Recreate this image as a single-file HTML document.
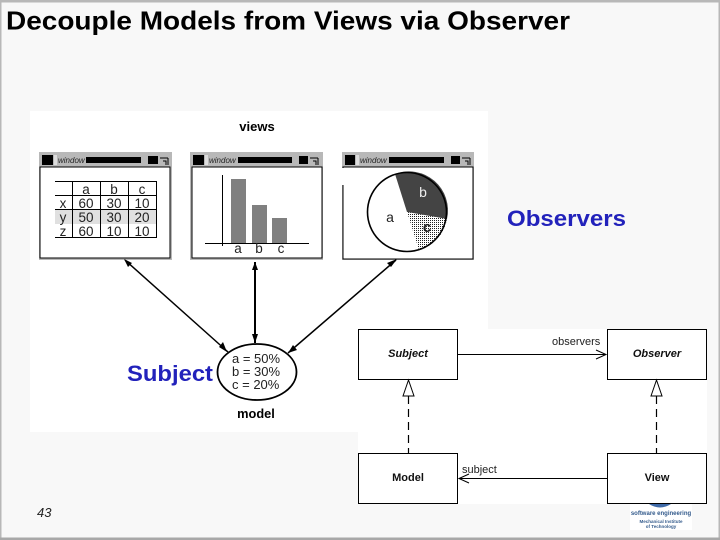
<!DOCTYPE html>
<html><head><meta charset="utf-8"><style>
html,body{margin:0;padding:0;background:#f8f8f8}
svg{display:block;font-family:"Liberation Sans",sans-serif}
.soft{filter:blur(.35px)}
</style></head><body>
<svg width="720" height="540" viewBox="0 0 720 540" xmlns="http://www.w3.org/2000/svg">
<defs><pattern id="d" width="2" height="2" patternUnits="userSpaceOnUse"><rect width="2" height="2" fill="#fff"/><rect width="1" height="1" fill="#222"/></pattern></defs>
<rect width="720" height="540" fill="#f8f8f8"/>
<rect width="720" height="2.500" fill="#b8b8b8"/><rect width="1.500" height="540" fill="#b8b8b8"/>
<rect x="718.500" width="1.500" height="540" fill="#b8b8b8"/><rect y="537.500" width="720" height="2.500" fill="#a8a8a8"/>
<text x="6" y="29.500" font-size="26" font-weight="bold" fill="#000" textLength="564" lengthAdjust="spacingAndGlyphs">Decouple Models from Views via Observer</text>
<rect x="30" y="111" width="458" height="321" fill="#fff"/>
<g class="soft">
<text x="257" y="131" font-size="13" font-weight="bold" text-anchor="middle">views</text>

<!-- window 1 -->
<g>
<rect x="39" y="152" width="133" height="108" fill="#b8b8b8"/>
<rect x="40" y="167" width="130" height="91" fill="#fff" stroke="#000"/>
<rect x="42" y="155" width="11" height="10" fill="#000"/>
<rect x="54" y="155" width="3" height="10" fill="#ddd"/>
<text x="58" y="163" font-size="8" font-style="italic" fill="#222">window</text>
<rect x="86" y="157" width="55" height="6" fill="#000"/>
<rect x="148" y="156" width="10" height="8" fill="#000"/>
<path d="M160 158h8M168 158v7M163 161h3v4" fill="none" stroke="#000"/>
<rect x="55" y="210" width="101" height="14" fill="#e0e0e0"/>
<path d="M55 181.500H156M55 195.500H156M55 209.500H156M55 237.500H156M72.500 181V238M100.500 181V238M128.500 181V238M156.500 181V238" stroke="#000" fill="none"/>
<g font-size="13.500" text-anchor="middle" fill="#222">
<text x="86" y="194">a</text><text x="114" y="194">b</text><text x="142" y="194">c</text>
<text x="63" y="208">x</text><text x="86" y="208">60</text><text x="114" y="208">30</text><text x="142" y="208">10</text>
<text x="63" y="222">y</text><text x="86" y="222">50</text><text x="114" y="222">30</text><text x="142" y="222">20</text>
<text x="63" y="236">z</text><text x="86" y="236">60</text><text x="114" y="236">10</text><text x="142" y="236">10</text>
</g>
</g>

<!-- window 2 -->
<g>
<rect x="190" y="152" width="133" height="108" fill="#b8b8b8"/>
<rect x="192" y="167" width="130" height="91" fill="#fff" stroke="#000"/>
<rect x="193" y="155" width="11" height="10" fill="#000"/>
<rect x="205" y="155" width="3" height="10" fill="#ddd"/>
<text x="209" y="163" font-size="8" font-style="italic" fill="#222">window</text>
<rect x="238" y="157" width="54" height="6" fill="#000"/>
<rect x="299" y="156" width="9" height="8" fill="#000"/>
<path d="M310 158h8M318 158v7M313 161h3v4" fill="none" stroke="#000"/>
<rect x="231" y="179" width="15" height="64" fill="#808080"/>
<rect x="252" y="205" width="15" height="38" fill="#808080"/>
<rect x="272" y="218" width="15" height="25" fill="#808080"/>
<path d="M222.500 175V246M205 243.500H309" stroke="#000" fill="none"/>
<g font-size="13.500" text-anchor="middle" fill="#222"><text x="238" y="253">a</text><text x="259" y="253">b</text><text x="281" y="253">c</text></g>
</g>

<!-- window 3 -->
<g>
<rect x="342" y="152" width="132" height="108" fill="#b8b8b8"/>
<rect x="343" y="167" width="130" height="92" fill="#fff" stroke="#000"/>
<rect x="342" y="168" width="3" height="17" fill="#fff"/>
<rect x="345" y="155" width="10" height="10" fill="#000"/>
<rect x="356" y="155" width="3" height="10" fill="#ddd"/>
<text x="360" y="163" font-size="8" font-style="italic" fill="#222">window</text>
<rect x="389" y="157" width="55" height="6" fill="#000"/>
<rect x="451" y="156" width="9" height="8" fill="#000"/>
<path d="M462 158h8M470 158v7M465 161h3v4" fill="none" stroke="#000"/>
<path d="M407 212L395 174A39 39 0 0 1 447 219Z" fill="#444"/>
<path d="M407 212L447 219A39 39 0 0 1 419 250Z" fill="url(#d)"/>
<circle cx="407" cy="212" r="39.500" fill="none" stroke="#000" stroke-width="1.600"/>
<text x="390" y="222" font-size="14" text-anchor="middle" fill="#222">a</text>
<text x="423" y="197" font-size="14" text-anchor="middle" fill="#eee">b</text>
<text x="427" y="232" font-size="15" font-weight="bold" text-anchor="middle" fill="#222">c</text>
</g>

<!-- arrows -->
<g stroke="#000" fill="none">
<path d="M125 260L228 352" stroke-width="1.500"/>
<path d="M255 262V343" stroke-width="2"/>
<path d="M396 260L288 353" stroke-width="1.500"/>
</g>
<g fill="#000">
<path d="M124 259L132 263L128 267Z"/>
<path d="M227 352L219 347L223 342Z"/>
<path d="M255 262L258 270H252Z"/>
<path d="M255 343L258 334H252Z"/>
<path d="M397 259L391 267L387 263Z"/>
<path d="M288 353L293 345L297 350Z"/>
</g>
<ellipse cx="257" cy="372" rx="39.500" ry="28" fill="#fff" stroke="#000" stroke-width="1.800"/>
<g font-size="13" fill="#222"><text x="232" y="363">a = 50%</text><text x="232" y="376">b = 30%</text><text x="232" y="389">c = 20%</text></g>
<text x="256" y="418" font-size="12.800" font-weight="bold" text-anchor="middle">model</text>
</g>
<text x="127" y="381" font-size="22" font-weight="bold" fill="#2222bb" textLength="86" lengthAdjust="spacingAndGlyphs">Subject</text>
<text x="507" y="226" font-size="22" font-weight="bold" fill="#2222bb" textLength="119" lengthAdjust="spacingAndGlyphs">Observers</text>

<!-- UML -->
<rect x="358" y="329" width="349" height="175" fill="#fff"/>
<g class="soft">
<g fill="#fff" stroke="#000" stroke-width="1">
<rect x="358.500" y="329.500" width="99" height="50"/>
<rect x="607.500" y="329.500" width="99" height="50"/>
<rect x="358.500" y="453.500" width="99" height="50"/>
<rect x="607.500" y="453.500" width="99" height="50"/>
</g>
<g font-size="11" font-weight="bold" text-anchor="middle" fill="#111">
<text x="408" y="357" font-style="italic">Subject</text>
<text x="657" y="357" font-style="italic">Observer</text>
<text x="408" y="481">Model</text>
<text x="657" y="481">View</text>
</g>
<g stroke="#000" fill="none">
<path d="M458 354.500H606M596 350L606 354.500L596 359"/>
<path d="M607 478.500H459M469 474L459 478.500L469 483"/>
<path d="M408.500 396V453M656.500 396V453" stroke-dasharray="8 5" stroke-width="1.200"/>
</g>
<path d="M408.500 380L403 396H414Z" fill="#fff" stroke="#000"/>
<path d="M656.500 380L651 396H662Z" fill="#fff" stroke="#000"/>
<g font-size="11" fill="#222"><text x="552" y="345">observers</text><text x="462" y="473">subject</text></g>

<!-- logo -->
<rect x="630" y="504" width="62" height="26" fill="#fff"/>
<path d="M649 504H671Q660 511 649 504Z" fill="#3f6aa8"/>
<text x="661" y="515" font-size="6" font-weight="bold" text-anchor="middle" fill="#345b8c">software engineering</text>
<text x="661" y="523" font-size="4.500" font-weight="bold" text-anchor="middle" fill="#345b8c">Mechanical Institute</text>
<text x="661" y="528" font-size="4.500" font-weight="bold" text-anchor="middle" fill="#345b8c">of Technology</text>
</g>
<text x="37" y="517" font-size="13" font-style="italic" fill="#222">43</text>
</svg>
</body></html>
